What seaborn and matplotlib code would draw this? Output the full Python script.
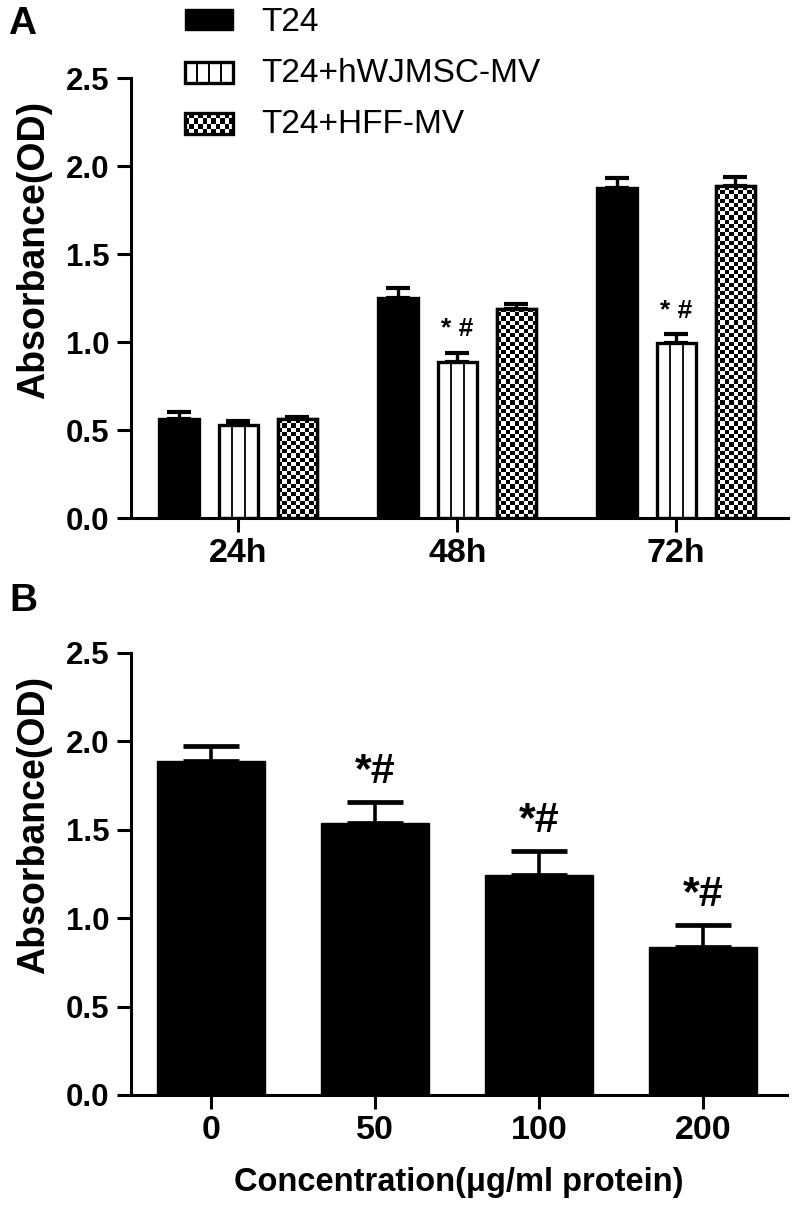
import numpy as np
import pandas as pd
import matplotlib
matplotlib.use("Agg")
import matplotlib.pyplot as plt
import seaborn as sns
from matplotlib.patches import Rectangle
from matplotlib.lines import Line2D
from matplotlib.legend_handler import HandlerBase

# ---------------- data ----------------
times = ["24h", "48h", "72h"]
groups = ["T24", "T24+hWJMSC-MV", "T24+HFF-MV"]
mean_t24 = [0.565, 1.25, 1.875]
mean_hwj = [0.53, 0.885, 0.994]
mean_hff = [0.56, 1.19, 1.886]
sem_t24 = [0.035, 0.055, 0.055]
sem_hwj = [0.02, 0.055, 0.051]
sem_hff = [0.015, 0.025, 0.054]
sig_a = ["", "* #", "* #"]  # marks on hWJMSC-MV bars

conc = ["0", "50", "100", "200"]
mean_b = [1.889, 1.54, 1.244, 0.839]
sem_b = [0.085, 0.116, 0.136, 0.123]
sig_b = ["", "*#", "*#", "*#"]

yticks = [0.0, 0.5, 1.0, 1.5, 2.0, 2.5]

# ---------------- style ----------------
sns.set_theme(style="ticks")
FAM = ["Liberation Sans", "DejaVu Sans"]
plt.rcParams["font.family"] = FAM
plt.rcParams["axes.linewidth"] = 2.2
plt.rcParams["text.color"] = "black"
plt.rcParams["axes.labelcolor"] = "black"

W, H = 797, 1207
fig = plt.figure(figsize=(W / 100, H / 100), dpi=100)

def frac(x0, y0, x1, y1):
    return [x0 / W, 1 - y1 / H, (x1 - x0) / W, (y1 - y0) / H]

axA = fig.add_axes(frac(131, 78, 788, 518))
axB = fig.add_axes(frac(131, 653, 787, 1095))

def style_axis(ax):
    sns.despine(ax=ax)
    ax.set_ylim(0, 2.5)
    ax.set_yticks(yticks)
    ax.set_yticklabels([f"{v:.1f}" for v in yticks])
    ax.tick_params(axis="both", direction="out", length=10, width=2.2,
                   color="black", labelcolor="black")
    ax.tick_params(axis="y", labelsize=22.5, pad=5.5)
    ax.tick_params(axis="x", labelsize=24.5, pad=4.5)
    for lab in ax.get_xticklabels() + ax.get_yticklabels():
        lab.set_fontweight("bold")
    ax.set_ylabel("Absorbance(OD)", fontsize=27, fontweight="bold", labelpad=10,
                  color="black", y=0.61)
    for s in ax.spines.values():
        s.set_color("black")
        s.set_linewidth(2.2)

# ---------------- panel A ----------------
dfA = pd.DataFrame({
    "time": times * 3,
    "group": [groups[0]] * 3 + [groups[1]] * 3 + [groups[2]] * 3,
    "val": mean_t24 + mean_hwj + mean_hff,
})
sns.barplot(data=dfA, x="time", y="val", hue="group", order=times, hue_order=groups,
            palette=["black", "white", "white"], width=0.81, gap=0.33,
            edgecolor="black", linewidth=2.4, errorbar=None, legend=False,
            ax=axA, zorder=2, saturation=1)
axA.set_xlim(-0.49, 2.51)
axA.set_ylim(0, 2.5)
bar_conts = list(axA.containers)

sems = [sem_t24, sem_hwj, sem_hff]
means = [mean_t24, mean_hwj, mean_hff]
for gi, cont in enumerate(bar_conts):
    xs = [p.get_x() + p.get_width() / 2 for p in cont.patches]
    axA.errorbar(xs, means[gi], yerr=[np.zeros(3), sems[gi]], fmt="none",
                 ecolor="black", elinewidth=2.4, capsize=8.3, capthick=3, zorder=1)

# vertical stripes on hWJMSC-MV bars
for p in bar_conts[1].patches:
    x0, w, h = p.get_x(), p.get_width(), p.get_height()
    axA.vlines([x0 + w / 3, x0 + 2 * w / 3], 0, h, colors="black", linewidth=1.3, zorder=3)

# checkerboard on HFF-MV bars
px_per_x = axA.transData.transform((1, 0))[0] - axA.transData.transform((0, 0))[0]
px_per_y = axA.transData.transform((0, 1))[1] - axA.transData.transform((0, 0))[1]
cell = 4.2
for p in bar_conts[2].patches:
    x0, w, h = p.get_x(), p.get_width(), p.get_height()
    nc = max(2, int(round(w * px_per_x / cell)))
    nr = max(2, int(round(h * px_per_y / cell)))
    chk = (np.add.outer(np.arange(nr), np.arange(nc)) % 2).astype(float)
    im = axA.imshow(chk, extent=[x0, x0 + w, 0, h], cmap="gray", vmin=0, vmax=1,
                    interpolation="nearest", aspect="auto", origin="lower", zorder=2.5)
    im.set_clip_path(p)
    axA.add_patch(Rectangle((x0, 0), w, h, fill=False, edgecolor="black",
                            linewidth=2.4, zorder=3))
axA.set_xlim(-0.49, 2.51)
axA.set_ylim(0, 2.5)

for i, s in enumerate(sig_a):
    if s:
        xc = bar_conts[1].patches[i]
        axA.text(xc.get_x() + xc.get_width() / 2, mean_hwj[i] + sem_hwj[i] + 0.065, s,
                 ha="center", va="bottom", fontsize=19, fontweight="bold")
style_axis(axA)
axA.set_xlabel("")

# legend
class StripeHandler(HandlerBase):
    def create_artists(self, legend, orig, xd, yd, width, height, fontsize, trans):
        arts = [Rectangle((xd, yd), width, height, facecolor="white",
                          edgecolor="black", linewidth=2.4, transform=trans)]
        for k in (1, 2, 3):
            xx = xd + width * k / 4
            arts.append(Line2D([xx, xx], [yd, yd + height],
                               color="black", linewidth=1.4, transform=trans))
        return arts

class CheckerHandler(HandlerBase):
    def create_artists(self, legend, orig, xd, yd, width, height, fontsize, trans):
        arts = [Rectangle((xd, yd), width, height, facecolor="white",
                          edgecolor="none", transform=trans)]
        nc, nr = 11, 4
        cw, ch = width / nc, height / nr
        for r in range(nr):
            for c in range(nc):
                if (r + c) % 2 == 0:
                    arts.append(Rectangle((xd + c * cw, yd + r * ch), cw, ch,
                                          facecolor="black", edgecolor="none",
                                          transform=trans))
        arts.append(Rectangle((xd, yd), width, height, fill=False,
                              edgecolor="black", linewidth=2.4, transform=trans))
        return arts

h1 = Rectangle((0, 0), 1, 1, facecolor="black", edgecolor="black")
h2 = Rectangle((0, 0), 1, 1, facecolor="white", edgecolor="black")
h3 = Rectangle((0, 0), 1, 1, facecolor="white", edgecolor="black")
fig.legend([h1, h2, h3], groups, loc="upper left",
           bbox_to_anchor=(185 / W, 1 - 7 / H), frameon=False,
           prop={"size": 24},
           handlelength=1.45, handleheight=0.6, handletextpad=0.85,
           labelspacing=0.6, borderpad=0, borderaxespad=0,
           handler_map={h2: StripeHandler(), h3: CheckerHandler()})

# ---------------- panel B ----------------
dfB = pd.DataFrame({"conc": conc, "val": mean_b})
sns.barplot(data=dfB, x="conc", y="val", order=conc, color="black", width=0.66,
            edgecolor="black", linewidth=1, errorbar=None, ax=axB, zorder=2,
            saturation=1)
xsB = [p.get_x() + p.get_width() / 2 for p in axB.patches]
axB.errorbar(xsB, mean_b, yerr=[np.zeros(4), sem_b], fmt="none", ecolor="black",
             elinewidth=2.6, capsize=20, capthick=3.4, zorder=1)
for i, s in enumerate(sig_b):
    if s:
        axB.text(xsB[i], mean_b[i] + sem_b[i] + 0.055, s, ha="center", va="bottom",
                 fontsize=31, fontweight="bold")
axB.set_xlim(-0.49, 3.51)
style_axis(axB)
axB.set_xlabel("Concentration(μg/ml protein)", fontsize=23.5, fontweight="bold",
               labelpad=15, color="black")

# panel letters
fig.text(8 / W, 1 - 6 / H, "A", fontsize=28, fontweight="bold", va="top", ha="left",
         color="black")
fig.text(9 / W, 1 - 583 / H, "B", fontsize=28, fontweight="bold", va="top", ha="left",
         color="black")

fig.savefig("out.png", dpi=100, facecolor="white")
